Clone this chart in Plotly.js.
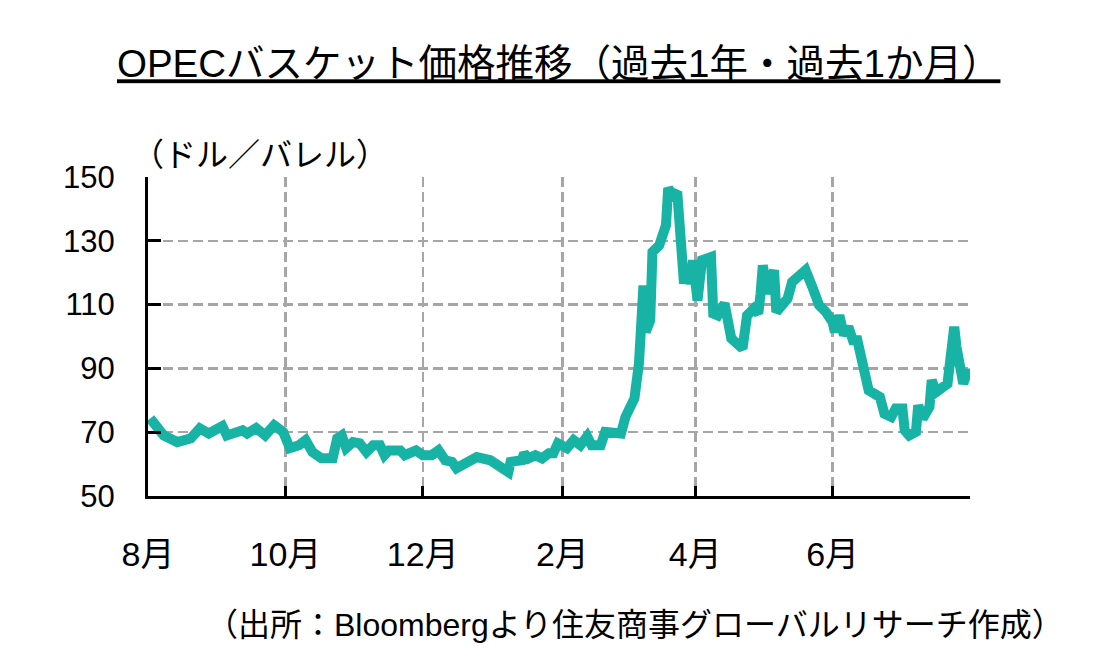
<!DOCTYPE html>
<html>
<head>
<meta charset="utf-8">
<script src="https://cdn.plot.ly/plotly-3.0.1.min.js"></script>
<style>
	html, body { margin: 0; padding: 0; background: #fff; }
	#chart { width: 1102px; height: 672px; }
</style>
</head>
<body>
<div id="chart"></div>
<script>
// OPEC basket price (USD/bbl)
const dates = [
	"2021-08-02", "2021-08-08", "2021-08-14", "2021-08-20", "2021-08-24", "2021-08-28",
	"2021-09-03", "2021-09-05", "2021-09-12", "2021-09-14", "2021-09-18", "2021-09-22",
	"2021-09-26", "2021-09-30", "2021-10-03", "2021-10-07", "2021-10-10", "2021-10-13",
	"2021-10-17", "2021-10-22", "2021-10-24", "2021-10-26", "2021-10-28", "2021-10-31",
	"2021-11-03", "2021-11-06", "2021-11-09", "2021-11-12", "2021-11-14", "2021-11-16",
	"2021-11-21", "2021-11-23", "2021-11-28", "2021-12-01", "2021-12-05", "2021-12-08",
	"2021-12-11", "2021-12-14", "2021-12-16", "2021-12-19", "2021-12-25", "2021-12-31",
	"2022-01-04", "2022-01-08", "2022-01-09", "2022-01-14", "2022-01-15", "2022-01-17",
	"2022-01-20", "2022-01-23", "2022-01-26", "2022-01-28", "2022-01-30", "2022-02-03",
	"2022-02-06", "2022-02-09", "2022-02-12", "2022-02-14", "2022-02-18", "2022-02-20",
	"2022-02-27", "2022-03-01", "2022-03-05", "2022-03-07", "2022-03-09", "2022-03-10",
	"2022-03-12", "2022-03-13", "2022-03-16", "2022-03-19", "2022-03-20", "2022-03-22",
	"2022-03-24", "2022-03-27", "2022-03-28", "2022-03-30", "2022-03-31", "2022-04-02",
	"2022-04-04", "2022-04-08", "2022-04-09", "2022-04-11", "2022-04-14", "2022-04-15",
	"2022-04-16", "2022-04-17", "2022-04-22", "2022-04-24", "2022-04-27", "2022-04-29",
	"2022-04-30", "2022-05-01", "2022-05-03", "2022-05-06", "2022-05-07", "2022-05-12",
	"2022-05-14", "2022-05-16", "2022-05-20", "2022-05-23", "2022-05-26", "2022-05-29",
	"2022-06-01", "2022-06-02", "2022-06-04", "2022-06-06", "2022-06-08", "2022-06-10",
	"2022-06-12", "2022-06-14", "2022-06-17", "2022-06-22", "2022-06-24", "2022-06-27",
	"2022-06-29", "2022-07-02", "2022-07-03", "2022-07-05", "2022-07-08", "2022-07-09",
	"2022-07-11", "2022-07-14", "2022-07-15", "2022-07-17", "2022-07-22", "2022-07-25",
	"2022-07-26", "2022-07-29", "2022-07-31", "2022-08-01"
]
const prices = [
	74.3, 69.0, 66.9, 68.1, 71.2, 69.6,
	71.9, 69.0, 70.6, 69.6, 71.3, 69.0,
	72.2, 70.1, 65.0, 65.9, 67.5, 63.8,
	61.8, 61.8, 68.1, 69.0, 65.0, 66.9,
	66.5, 63.8, 65.9, 65.9, 62.8, 64.3,
	64.3, 62.8, 64.3, 62.8, 62.8, 64.3,
	61.2, 60.7, 58.7, 59.6, 62.2, 61.2,
	59.6, 57.5, 60.7, 61.2, 63.4, 61.8,
	62.8, 61.8, 63.4, 63.4, 66.5, 65.0,
	67.5, 65.9, 68.7, 65.9, 65.9, 70.1,
	69.6, 74.8, 80.6, 91.6, 116.0, 101.4,
	105.0, 126.5, 128.6, 134.9, 146.5, 144.2,
	145.3, 116.6, 122.3, 116.6, 123.9, 111.3,
	123.9, 124.9, 107.2, 106.6, 110.4, 105.6,
	105.0, 99.4, 96.2, 106.6, 108.7, 107.2,
	113.4, 122.3, 113.4, 120.8, 107.7, 111.9,
	117.1, 118.7, 120.8, 115.5, 109.8, 107.7,
	104.5, 101.4, 106.6, 100.4, 103.0, 98.8,
	98.8, 92.5, 83.1, 81.0, 75.8, 74.8,
	77.4, 77.4, 70.6, 69.0, 70.1, 78.4,
	74.3, 77.9, 86.3, 82.6, 85.2, 103.0,
	96.7, 85.2, 89.4, 87.8
]

// month gridlines / labels
const tickDates = ["2021-08-01", "2021-10-01", "2021-12-01", "2022-02-01", "2022-04-01", "2022-06-01", "2022-08-01"]
const tickLabels = ["8月", "10月", "12月", "2月", "4月", "6月", ""]

const FONT = '"Liberation Sans", Arial, "Noto Sans CJK JP", sans-serif'

const trace = {
	x: dates,
	y: prices,
	type: 'scatter',
	mode: 'lines',
	line: { color: '#17b4a6', width: 10 },
	hoverinfo: 'skip'
}

const layout = {
	width: 1102,
	height: 672,
	margin: { l: 148, r: 132, t: 177, b: 176 },
	paper_bgcolor: '#fff',
	plot_bgcolor: '#fff',
	showlegend: false,
	font: { family: FONT, color: '#000' },
	title: {
		text: 'OPECバスケット価格推移（過去1年・過去1か月）',
		font: { size: 38.5, family: FONT, color: '#000', lineposition: 'under' },
		x: 0.507,
		xanchor: 'center',
		y: 0.905,
		yanchor: 'middle'
	},
	xaxis: {
		type: 'date',
		range: ['2021-08-01', '2022-08-01'],
		tickmode: 'array',
		tickvals: tickDates,
		ticktext: tickLabels,
		ticks: 'inside',
		ticklen: 10,
		tickwidth: 3,
		tickcolor: '#000',
		ticklabelstandoff: 26,
		tickfont: { size: 34 },
		showline: true,
		linecolor: '#000',
		linewidth: 3,
		showgrid: true,
		gridcolor: '#a6a6a6',
		gridwidth: 2.5,
		griddash: '10px,5px',
		zeroline: false,
		fixedrange: true
	},
	yaxis: {
		range: [50, 150],
		tick0: 50,
		dtick: 20,
		ticks: 'inside',
		ticklen: 13,
		tickwidth: 3,
		tickcolor: '#000',
		ticklabelstandoff: 24,
		tickfont: { size: 31 },
		showline: true,
		linecolor: '#000',
		linewidth: 3,
		showgrid: true,
		gridcolor: '#a6a6a6',
		gridwidth: 2.5,
		griddash: '10px,5px',
		zeroline: false,
		fixedrange: true
	},
	annotations: [
		{
			text: '（ドル／バレル）',
			xref: 'paper', yref: 'paper',
			x: -0.022, y: 1.068,
			xanchor: 'left', yanchor: 'middle',
			showarrow: false,
			font: { size: 32 }
		},
		{
			text: '（出所：Bloombergより住友商事グローバルリサーチ作成）',
			xref: 'paper', yref: 'paper',
			x: 1.117, y: -0.405,
			xanchor: 'right', yanchor: 'middle',
			showarrow: false,
			font: { size: 32 }
		}
	]
}

Plotly.newPlot('chart', [trace], layout, { displayModeBar: false, staticPlot: true })
</script>
</body>
</html>
